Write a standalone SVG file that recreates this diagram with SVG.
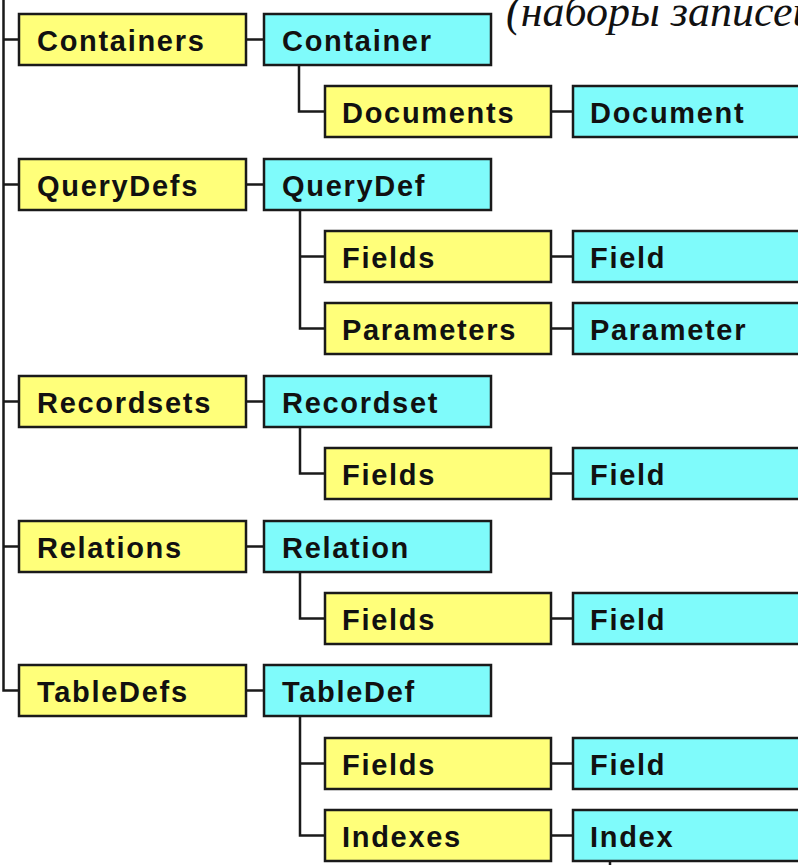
<svg xmlns="http://www.w3.org/2000/svg" width="798" height="865" viewBox="0 0 798 865">
<style>
.y{fill:#FFFF7A;stroke:#1a1a1a;stroke-width:2.5}
.c{fill:#7FFBFB;stroke:#1a1a1a;stroke-width:2.5}
.t{font-family:"Liberation Sans",Arial,sans-serif;font-weight:bold;font-size:29px;letter-spacing:1.7px;fill:#111}
.ln{stroke:#1a1a1a;stroke-width:2.5;fill:none}
.title{font-family:"Liberation Serif","Times New Roman",serif;font-style:italic;font-size:44px;fill:#111}
</style>
<rect width="798" height="865" fill="#ffffff"/>
<text class="title" x="506" y="26">(наборы записей</text>
<g id="connectors">
<path class="ln" d="M3.5,0 V690.5 H19"/>
<path class="ln" d="M3.5,39.5 H19 M3.5,184.5 H19 M3.5,401.5 H19 M3.5,546.5 H19"/>
<path class="ln" d="M246,39.5 H264 M246,184.5 H264 M246,401.5 H264 M246,546.5 H264 M246,690.5 H264"/>
<path class="ln" d="M299,65 V111.5 H325"/>
<path class="ln" d="M300,210 V328.5 H325 M300,256.5 H325"/>
<path class="ln" d="M300,427 V473.5 H325"/>
<path class="ln" d="M300,572 V618.5 H325"/>
<path class="ln" d="M300,716 V835.5 H325 M300,763.5 H325"/>
<path class="ln" d="M551,111.5 H573 M551,256.5 H573 M551,328.5 H573 M551,473.5 H573 M551,618.5 H573 M551,763.5 H573 M551,835.5 H573"/>
<path class="ln" d="M610,861 V865"/>
</g>
<g id="Containers"><rect class="y" x="19" y="14" width="227" height="51"/><text class="t" x="37" y="51">Containers</text></g>
<g id="Container"><rect class="c" x="264" y="14" width="227" height="51"/><text class="t" x="282" y="51">Container</text></g>
<g id="Documents"><rect class="y" x="325" y="86" width="226" height="51"/><text class="t" x="342" y="123">Documents</text></g>
<g id="Document"><rect class="c" x="573" y="86" width="240" height="51"/><text class="t" x="590" y="123">Document</text></g>
<g id="QueryDefs"><rect class="y" x="19" y="159" width="227" height="51"/><text class="t" x="37" y="196">QueryDefs</text></g>
<g id="QueryDef"><rect class="c" x="264" y="159" width="227" height="51"/><text class="t" x="282" y="196">QueryDef</text></g>
<g id="QFields"><rect class="y" x="325" y="231" width="226" height="51"/><text class="t" x="342" y="268">Fields</text></g>
<g id="QField"><rect class="c" x="573" y="231" width="240" height="51"/><text class="t" x="590" y="268">Field</text></g>
<g id="Parameters"><rect class="y" x="325" y="303" width="226" height="51"/><text class="t" x="342" y="340">Parameters</text></g>
<g id="Parameter"><rect class="c" x="573" y="303" width="240" height="51"/><text class="t" x="590" y="340">Parameter</text></g>
<g id="Recordsets"><rect class="y" x="19" y="376" width="227" height="51"/><text class="t" x="37" y="413">Recordsets</text></g>
<g id="Recordset"><rect class="c" x="264" y="376" width="227" height="51"/><text class="t" x="282" y="413">Recordset</text></g>
<g id="RFields"><rect class="y" x="325" y="448" width="226" height="51"/><text class="t" x="342" y="485">Fields</text></g>
<g id="RField"><rect class="c" x="573" y="448" width="240" height="51"/><text class="t" x="590" y="485">Field</text></g>
<g id="Relations"><rect class="y" x="19" y="521" width="227" height="51"/><text class="t" x="37" y="558">Relations</text></g>
<g id="Relation"><rect class="c" x="264" y="521" width="227" height="51"/><text class="t" x="282" y="558">Relation</text></g>
<g id="LFields"><rect class="y" x="325" y="593" width="226" height="51"/><text class="t" x="342" y="630">Fields</text></g>
<g id="LField"><rect class="c" x="573" y="593" width="240" height="51"/><text class="t" x="590" y="630">Field</text></g>
<g id="TableDefs"><rect class="y" x="19" y="665" width="227" height="51"/><text class="t" x="37" y="702">TableDefs</text></g>
<g id="TableDef"><rect class="c" x="264" y="665" width="227" height="51"/><text class="t" x="282" y="702">TableDef</text></g>
<g id="TFields"><rect class="y" x="325" y="738" width="226" height="51"/><text class="t" x="342" y="775">Fields</text></g>
<g id="TField"><rect class="c" x="573" y="738" width="240" height="51"/><text class="t" x="590" y="775">Field</text></g>
<g id="Indexes"><rect class="y" x="325" y="810" width="226" height="51"/><text class="t" x="342" y="847">Indexes</text></g>
<g id="Index"><rect class="c" x="573" y="810" width="240" height="51"/><text class="t" x="590" y="847">Index</text></g>
</svg>
